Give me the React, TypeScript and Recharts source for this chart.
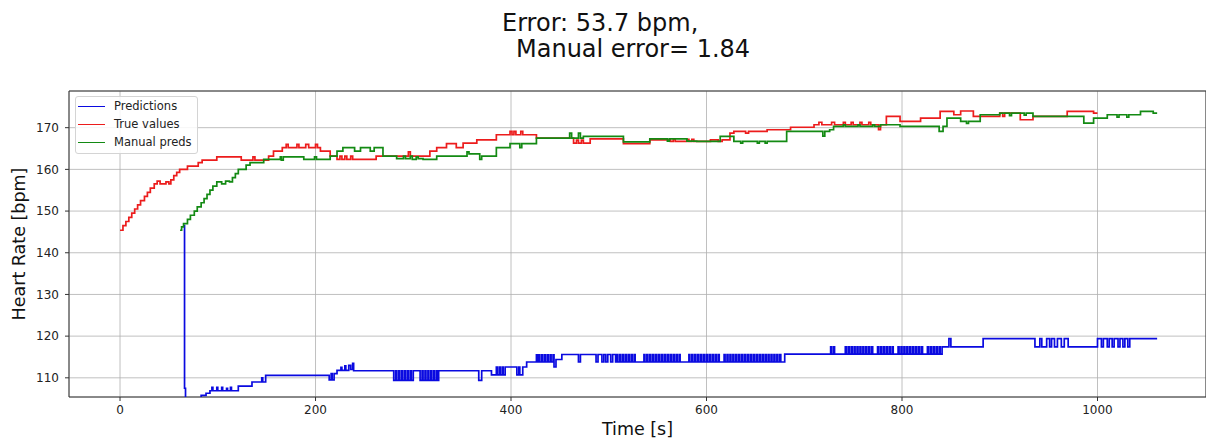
import React from 'react';
import { LineChart, Line, XAxis, YAxis, CartesianGrid, ReferenceArea, Legend } from 'recharts';

const FONT = '"DejaVu Sans", sans-serif';

const timeTicks = [0, 200, 400, 600, 800, 1000];
const hrTicks = [110, 120, 130, 140, 150, 160, 170];
const timeDomain: [number, number] = [-52.2, 1111];
const hrDomain: [number, number] = [105.4, 178.8];

const titleLines = ['Error: 53.7 bpm,', 'Manual error= 1.84'];
const seriesNames = ['Predictions', 'True values', 'Manual preds'];
const seriesColors = ['#0a0ae0', '#ec1c1c', '#138a13'];

// [time s, bpm] change points, drawn as steps
const predPoints: [number, number][] = [
  [65, 146.5], [66, 107.5], [67, 100], [83, 105.8], [88, 106.3], [92, 106.9], [94, 107.7], [95, 106.9],
  [99, 107.7], [100, 106.9], [104, 107.7], [105, 106.9], [109, 107.5], [110, 106.9], [113, 107.7], [114, 106.9],
  [121, 108], [135, 109], [145, 110], [146, 109], [149, 110.6],
  [214, 109.5], [216, 111], [217, 109.5], [219, 111], [222, 111.8], [226, 112.5], [227, 111.8], [230, 112.9],
  [231, 111.8], [234, 113], [236, 112], [238, 113.5], [239, 111.7],
  [280, 109.4], [282, 111.7], [283, 109.4], [285, 111.7], [286, 109.4], [288, 111.7], [289, 109.4], [291, 111.7],
  [292, 109.4], [294, 111.7], [295, 109.4], [297, 111.7], [298, 109.4], [300, 111.7],
  [307, 109.4], [309, 111.7], [310, 109.4], [312, 111.7], [313, 109.4], [315, 111.7], [316, 109.4], [318, 111.7],
  [319, 109.4], [321, 111.7], [322, 109.4], [324, 111.7], [325, 109.4], [326, 111.7],
  [367, 109.4], [370, 111.7], [380, 110.7],
  [385, 112.6], [386, 110.7], [388, 112.6], [389, 110.7], [391, 112.6], [392, 110.7], [394, 112.6],
  [406, 110.7], [408, 112.6], [409, 110.7], [412, 112.6], [416, 113.8],
  [426, 115.5], [427, 113.8], [428, 115.5], [429, 113.8], [431, 115.5], [432, 113.8], [434, 115.5], [435, 113.8],
  [437, 115.5], [438, 113.8], [440, 115.5], [441, 113.8], [443, 115.5], [444, 112.6], [446, 114.4], [452, 115.6],
  [469, 113.8], [471, 115.6], [487, 113.8], [489, 115.6], [493, 113.8], [495, 115.6], [497, 113.8], [499, 115.6],
  [502, 113.8], [504, 115.6],
  [507, 113.8], [508, 115.6], [509, 113.8], [511, 115.6], [512, 113.8], [514, 115.6], [515, 113.8], [517, 115.6],
  [518, 113.8], [520, 115.6], [521, 113.8], [523, 115.6], [524, 113.8], [526, 115.6], [527, 113.8], [536, 115.6],
  [537, 113.8], [539, 115.6], [540, 113.8], [542, 115.6], [543, 113.8], [545, 115.6], [546, 113.8], [548, 115.6],
  [549, 113.8], [551, 115.6], [552, 113.8], [554, 115.6], [555, 113.8], [557, 115.6], [558, 113.8], [560, 115.6],
  [561, 113.8], [563, 115.6], [564, 113.8], [566, 115.6], [567, 113.8], [569, 115.6], [570, 113.8], [572, 115.6],
  [573, 113.8], [582, 115.6],
  [583, 113.8], [585, 115.6], [586, 113.8], [588, 115.6], [589, 113.8], [591, 115.6], [592, 113.8], [594, 115.6],
  [595, 113.8], [597, 115.6], [598, 113.8], [600, 115.6], [601, 113.8], [603, 115.6], [604, 113.8], [606, 115.6],
  [607, 113.8], [609, 115.6], [610, 113.8], [612, 115.6], [613, 113.8],
  [618, 115.6], [619, 113.8], [621, 115.6], [622, 113.8], [624, 115.6], [625, 113.8], [627, 115.6], [628, 113.8],
  [630, 115.6], [631, 113.8], [633, 115.6], [634, 113.8], [636, 115.6], [637, 113.8], [639, 115.6], [640, 113.8],
  [642, 115.6], [643, 113.8], [645, 115.6], [646, 113.8], [648, 115.6], [649, 113.8], [651, 115.6], [652, 113.8],
  [654, 115.6], [655, 113.8], [657, 115.6], [658, 113.8], [660, 115.6], [661, 113.8], [663, 115.6], [664, 113.8],
  [666, 115.6], [667, 113.8], [669, 115.6], [670, 113.8], [672, 115.6], [673, 113.8], [675, 115.6], [676, 113.8],
  [680, 115.7], [727, 117.4], [728, 115.7], [730, 117.4], [731, 115.7],
  [742, 117.4], [743, 115.7], [745, 117.4], [746, 115.7], [748, 117.4], [749, 115.7], [751, 117.4], [752, 115.7],
  [754, 117.4], [755, 115.7], [757, 117.4], [758, 115.7], [760, 117.4], [761, 115.7], [763, 117.4], [764, 115.7],
  [766, 117.4], [767, 115.7], [769, 117.4], [770, 115.7], [775, 117.4], [776, 115.7], [778, 117.4], [779, 115.7],
  [781, 117.4], [782, 115.7], [784, 117.4], [785, 115.7], [787, 117.4], [788, 115.7], [790, 117.4], [791, 115.7],
  [796, 117.4], [797, 115.7], [799, 117.4], [800, 115.7], [802, 117.4], [803, 115.7], [805, 117.4], [806, 115.7],
  [808, 117.4], [809, 115.7], [811, 117.4], [812, 115.7], [814, 117.4], [815, 115.7], [817, 117.4], [818, 115.7],
  [820, 117.4], [821, 115.7], [826, 117.4], [827, 115.7], [829, 117.4], [830, 115.7], [832, 117.4], [833, 115.7],
  [835, 117.4], [836, 115.7], [838, 117.4], [839, 115.7],
  [841, 117.4], [848, 119.4], [850, 117.4], [883, 119.4], [936, 117.4], [941, 119.4], [943, 117.4], [948, 119.4],
  [951, 117.4], [953, 119.4], [956, 117.4], [959, 119.4], [963, 117.4], [966, 119.4], [970, 117.4],
  [1000, 119.4], [1004, 117.4], [1006, 119.4], [1010, 117.4], [1012, 119.4], [1015, 117.4], [1017, 119.4],
  [1021, 117.4], [1023, 119.4], [1026, 117.4], [1028, 119.4], [1031, 117.4], [1033, 119.4], [1061, 119.4],
];

const truePoints: [number, number][] = [
  [0, 145.4], [3, 146.5], [6, 147.5], [9, 148.5], [12, 149.5], [15, 150.5], [18, 151.5], [21, 152.5],
  [25, 153.5], [28, 154.5], [31, 155.5], [35, 156.5], [38, 157.2], [41, 156.5], [47, 157], [50, 156.5],
  [52, 157.5], [55, 158.5], [58, 159.3], [61, 160], [69, 160.8], [80, 161.6], [84, 162.2], [99, 163],
  [124, 162.2], [136, 163], [138, 162.2], [152, 163.2], [157, 164.4], [166, 165.2], [170, 166], [172, 165.2],
  [181, 166], [183, 165.2], [190, 166], [193, 165.2], [200, 166], [202, 165.2], [205, 164.4], [215, 163.2],
  [222, 162.4], [225, 163.2], [227, 162.4], [230, 163.2], [232, 162.4], [236, 163.2], [238, 162.4], [262, 163.2],
  [295, 164.2], [297, 163.2], [317, 164.4], [324, 165.2], [334, 166.2], [344, 165.2], [351, 166.3], [365, 167.1],
  [385, 168.3], [399, 169.1], [401, 168.3], [403, 169.1], [405, 168.3], [410, 169.1], [412, 168.3], [426, 167.5],
  [464, 166.3], [467, 167], [469, 166.3], [472, 167], [474, 166.3], [481, 167.3], [515, 166.2], [542, 167.1],
  [563, 166.7], [566, 167.2], [568, 166.7], [580, 167.2], [582, 166.7], [585, 167.2], [587, 166.7], [604, 167.1],
  [612, 166.7], [616, 167.1], [624, 168.7], [628, 169.1], [640, 168.7], [643, 169.1], [662, 169.5], [686, 170.1],
  [710, 170.7], [715, 171.3], [718, 170.7], [728, 171.3], [731, 170.7], [740, 171.3], [742, 170.7], [748, 171.3],
  [750, 170.7], [757, 171.3], [759, 170.7], [766, 171.3], [768, 170.7], [776, 169.5], [778, 170.7], [784, 172.7],
  [798, 171.5], [819, 172.3], [839, 173.9], [853, 173.1], [860, 174], [873, 172.7], [900, 173.5], [903, 172.7],
  [905, 173.5], [921, 171.9], [934, 172.7], [969, 173.9], [996, 173.5], [1000, 173.5],
];

const manualPoints: [number, number][] = [
  [61.4, 145.4], [63, 146.2], [65, 147], [69, 148], [72, 149], [76, 150], [79, 151], [83, 152],
  [86, 153], [89, 154], [92, 155], [95, 156], [99, 157], [104, 156.5], [108, 157.2], [112, 157],
  [115, 158], [118, 159], [121, 160], [129, 161], [133, 161.6], [147, 162.4], [164, 163], [165, 162.2],
  [167, 163], [188, 162.4], [199, 163], [201, 162.4], [215, 163.2], [222, 164.4], [228, 165.2], [240, 164.4],
  [246, 165.2], [256, 164.4], [260, 165.2], [269, 163.2], [283, 162.6], [290, 163.2], [292, 162.6], [297, 163.2],
  [299, 162.4], [303, 163], [305, 162.6], [310, 162.4], [324, 163.2], [355, 164.2], [357, 163.7], [368, 162.4],
  [370, 163.2], [385, 165.2], [399, 166.2], [409, 165.2], [411, 166.2], [426, 167.5], [460, 168.7], [462, 167.5],
  [469, 168.7], [471, 167.5], [474, 167.9], [515, 166.6], [542, 167.3], [560, 166.8], [562, 167.3], [580, 166.8],
  [590, 166.7], [614, 167.9], [628, 166.7], [635, 166.3], [637, 166.7], [652, 166.3], [654, 166.7], [660, 166.3],
  [662, 166.7], [682, 169.1], [719, 168], [721, 169.1], [726, 169.5], [730, 170.3], [740, 170.7], [742, 170.3],
  [755, 170.7], [757, 170.3], [770, 170.7], [772, 170.3], [778, 170.7], [798, 170.3], [838, 169.1], [842, 170.3],
  [846, 172.3], [860, 171.5], [866, 171], [868, 171.5], [880, 173.1], [900, 173.5], [910, 172.9], [912, 173.5],
  [925, 173], [927, 173.5], [934, 172.7], [986, 171.1], [996, 172.3], [1010, 173.1], [1020, 172.5], [1022, 173.1],
  [1030, 172.5], [1032, 173.1], [1044, 173.9], [1057, 173.5], [1061, 173.5],
];

const toRows = (pts: [number, number][]) => pts.map(([t, v]) => ({ t, v }));
const seriesData = [toRows(predPoints), toRows(truePoints), toRows(manualPoints)];

function LegendBox() {
  return (
    <div
      style={{
        border: '1px solid #d4d4d4',
        borderRadius: 3,
        background: 'rgba(255,255,255,0.85)',
        padding: '0 5px 2px 2px',
        fontFamily: FONT,
        fontSize: 11.5,
        color: '#222',
      }}
    >
      {seriesNames.map((name, i) => (
        <div key={name} style={{ display: 'flex', alignItems: 'center', height: 18 }}>
          <span
            style={{
              display: 'inline-block',
              width: 27,
              height: 0,
              borderTop: `1.7px solid ${seriesColors[i]}`,
              marginRight: 9,
            }}
          />
          <span>{name}</span>
        </div>
      ))}
    </div>
  );
}

const YLabel = (props: any) => {
  const vb = props.viewBox || { x: 0, y: 91, width: 69, height: 306 };
  const x = vb.x + 25;
  const y = vb.y + vb.height / 2;
  return (
    <text
      x={x}
      y={y}
      transform={`rotate(-90, ${x}, ${y})`}
      textAnchor="middle"
      fontSize={17.5}
      fontFamily={FONT}
      fill="#111"
    >
      Heart Rate [bpm]
    </text>
  );
};

export default function App() {
  return (
    <div style={{ position: 'absolute', left: 0, top: 0, width: 1206, height: 444, background: '#fff' }}>
      <LineChart width={1206} height={444} margin={{ top: 91, right: 0, bottom: 0, left: 0 }}>
        <CartesianGrid stroke="#b0b0b0" strokeWidth={0.8} />
        <XAxis
          dataKey="t"
          type="number"
          domain={timeDomain}
          ticks={timeTicks}
          allowDataOverflow
          height={47}
          tickSize={4}
          tickMargin={4}
          axisLine={false}
          tickLine={{ stroke: '#333' }}
          tick={{ fontSize: 12, fill: '#222', fontFamily: FONT }}
          label={{ value: 'Time [s]', position: 'insideBottom', offset: 9, fontSize: 17.5, fill: '#111', fontFamily: FONT }}
        />
        <YAxis
          type="number"
          domain={hrDomain}
          ticks={hrTicks}
          allowDataOverflow
          width={69}
          tickSize={4}
          tickMargin={6}
          axisLine={false}
          tickLine={{ stroke: '#333' }}
          tick={{ fontSize: 12, fill: '#222', fontFamily: FONT }}
          label={{ content: YLabel }}
        />
        {seriesData.map((rows, i) => (
          <Line
            key={seriesNames[i]}
            data={rows}
            dataKey="v"
            name={seriesNames[i]}
            type="stepAfter"
            stroke={seriesColors[i]}
            strokeWidth={1.7}
            dot={false}
            activeDot={false}
            isAnimationActive={false}
          />
        ))}
        <ReferenceArea
          x1={timeDomain[0]}
          x2={timeDomain[1]}
          y1={hrDomain[0]}
          y2={hrDomain[1]}
          fill="none"
          stroke="#333"
          strokeWidth={1}
          ifOverflow="visible"
        />
        <Legend
          content={<LegendBox />}
          layout="vertical"
          align="center"
          verticalAlign="middle"
          wrapperStyle={{ left: 75, top: 96, width: 'auto' }}
        />
      </LineChart>
      <svg
        width={1206}
        height={70}
        style={{ position: 'absolute', left: 0, top: 0, pointerEvents: 'none' }}
      >
        <text x={502} y={31} fontSize={24} fontFamily={FONT} fill="#111">
          {titleLines[0]}
        </text>
        <text x={516} y={57} fontSize={24} fontFamily={FONT} fill="#111">
          {titleLines[1]}
        </text>
      </svg>
    </div>
  );
}
